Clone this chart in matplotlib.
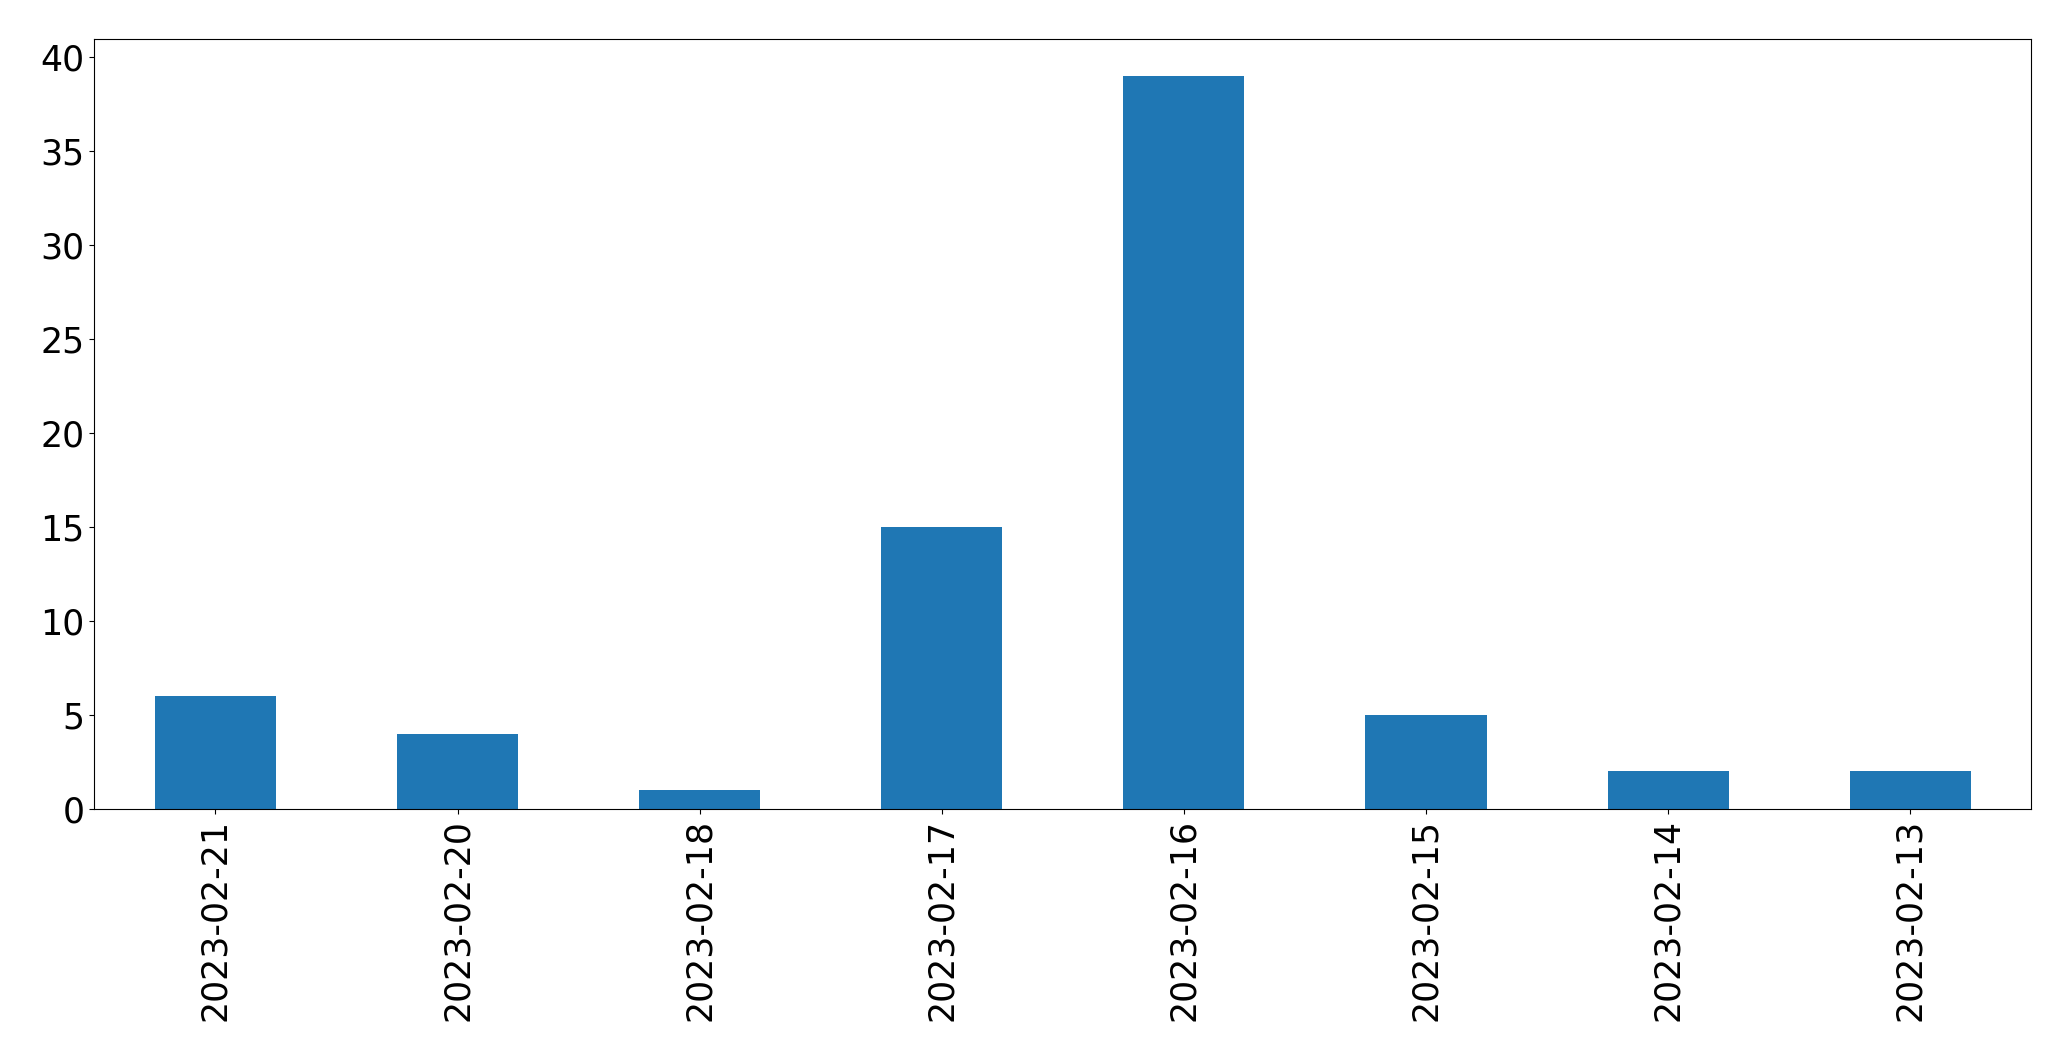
import matplotlib
matplotlib.use("Agg")
import matplotlib.pyplot as plt
import pandas as pd

dates = ["2023-02-21", "2023-02-20", "2023-02-18", "2023-02-17",
         "2023-02-16", "2023-02-15", "2023-02-14", "2023-02-13"]
counts = [6, 4, 1, 15, 39, 5, 2, 2]

plt.rcParams["font.size"] = 25

s = pd.Series(counts, index=dates)
fig, ax = plt.subplots(figsize=(20.71, 10.61), dpi=100)
s.plot(kind="bar", ax=ax, color="#1f77b4")
ax.tick_params(labelsize=25)
fig.subplots_adjust(left=0.0456, right=0.9808, top=0.9628, bottom=0.2375)
fig.savefig("out.png", dpi=100)
